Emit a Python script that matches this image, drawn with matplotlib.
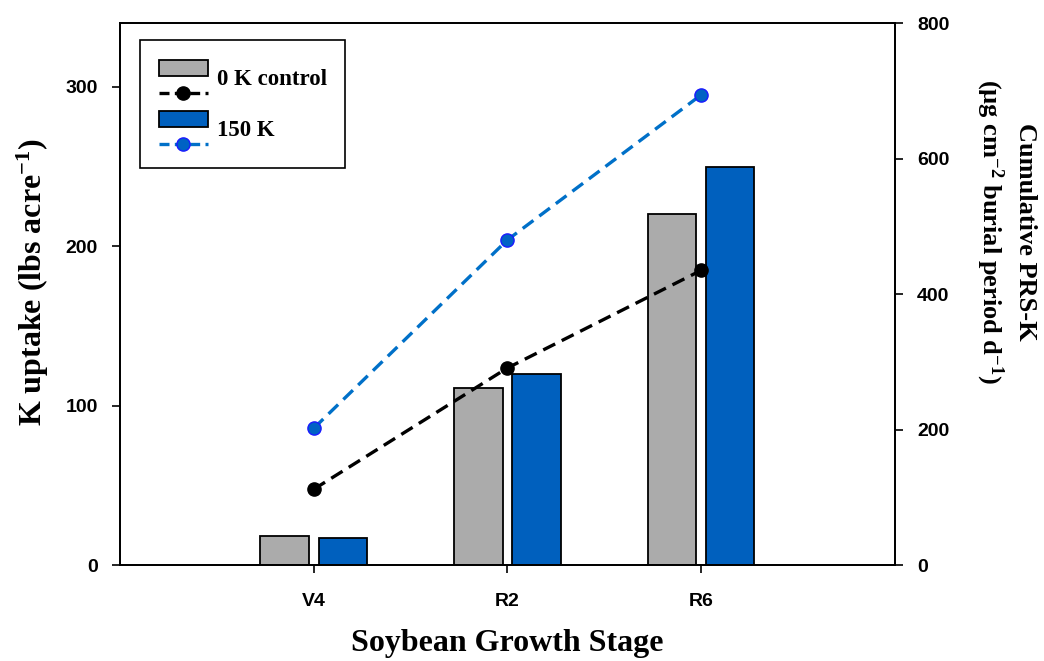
import matplotlib
matplotlib.use("Agg")
import matplotlib.pyplot as plt
from matplotlib.patches import Rectangle
from matplotlib.lines import Line2D
from matplotlib.legend_handler import HandlerBase

plt.rcParams["mathtext.fontset"] = "custom"
plt.rcParams["mathtext.bf"] = "Liberation Serif:bold"
plt.rcParams["mathtext.rm"] = "Liberation Serif:bold"
plt.rcParams["mathtext.it"] = "Liberation Serif:bold"

# ── data ──
stages = ["V4", "R2", "R6"]
uptake_0k = [18, 111, 220]      # lbs acre-1 (bars, left axis)
uptake_150k = [17, 120, 250]
prs_0k = [112, 291, 435]        # cumulative PRS-K (lines, right axis)
prs_150k = [202, 480, 694]

gray = "#ABABAB"
blue_bar = "#0060BE"
blue_line = "#0070C8"

tick_font = dict(family="Liberation Sans", weight="bold", size=14)
label_font = dict(family="Liberation Serif", weight="bold")


class StackedHandler(HandlerBase):
    # bar swatch on top, line sample below (SigmaPlot style)
    def create_artists(self, legend, orig_handle, xdescent, ydescent,
                       width, height, fontsize, trans):
        bar, line = orig_handle
        x0, y0 = -xdescent, -ydescent
        rect = Rectangle((x0, y0 + height * 0.55), width, height * 0.4,
                         facecolor=bar.get_facecolor(), edgecolor="black",
                         lw=1.3, transform=trans)
        ly = y0 + height * 0.125
        ln = Line2D([x0, x0 + width], [ly, ly],
                    color=line.get_color(), ls=line.get_linestyle(),
                    lw=line.get_linewidth(), transform=trans)
        ln.set_dashes((3, 1.6))
        mk = Line2D([x0 + width / 2], [ly], ls="none",
                    marker="o", ms=line.get_markersize(),
                    mfc=line.get_markerfacecolor(),
                    mec=line.get_markeredgecolor(), transform=trans)
        return [rect, ln, mk]


fig = plt.figure(figsize=(10.44, 6.61), dpi=100)
ax = fig.add_axes([0.115, 0.145, 0.742, 0.82])
ax2 = ax.twinx()

x = list(range(1, len(stages) + 1))
w = 0.25
b0 = ax.bar([i - 0.15 for i in x], uptake_0k, w, color=gray,
            edgecolor="black", lw=1.3, zorder=2)
b1 = ax.bar([i + 0.15 for i in x], uptake_150k, w, color=blue_bar,
            edgecolor="black", lw=1.3, zorder=2)

l0, = ax2.plot(x, prs_0k, ls="--", dashes=(4, 2.2), color="black", lw=2.4,
               marker="o", ms=9.5, mfc="black", mec="black")
l1, = ax2.plot(x, prs_150k, ls="--", dashes=(4, 2.2), color=blue_line,
               lw=2.4, marker="o", ms=9.5, mfc="#0062C4", mec="#1A1AFF")

ax.set_xlim(0, 4)
ax.set_ylim(0, 340)
ax2.set_ylim(0, 800)
ax.set_xticks(x)
ax.set_xticklabels(stages, **tick_font)
ax.set_yticks([0, 100, 200, 300])
ax.set_yticklabels(["0", "100", "200", "300"], **tick_font)
ax2.set_yticks([0, 200, 400, 600, 800])
ax2.set_yticklabels(["0", "200", "400", "600", "800"], **tick_font)

for a in (ax, ax2):
    a.tick_params(direction="out", length=6, width=1.2, pad=10)
    for s in a.spines.values():
        s.set_linewidth(1.3)
ax.tick_params(axis="x", pad=14)

ax.set_xlabel("Soybean Growth Stage", labelpad=14, size=23, **label_font)
ax.set_ylabel("K uptake (lbs acre$^{-1}$)", size=23, **label_font)
ax.yaxis.label.set_rotation_mode("default")
ax.yaxis.label.set_va("center")
ax.yaxis.label.set_ha("center")
ax.yaxis.set_label_coords(-0.112, 0.522)

ax2.set_ylabel("Cumulative PRS-K\n(µg cm$^{-2}$ burial period d$^{-1}$)",
               rotation=270, linespacing=1.4, size=19, **label_font)
ax2.yaxis.label.set_rotation_mode("default")
ax2.yaxis.label.set_va("center")
ax2.yaxis.label.set_ha("center")
ax2.yaxis.set_label_coords(1.143, 0.615)

leg = ax2.legend([(b0.patches[0], l0), (b1.patches[0], l1)],
                 ["0 K control", "150 K"],
                 handler_map={tuple: StackedHandler()},
                 loc="upper left", bbox_to_anchor=(0.026, 0.969),
                 borderaxespad=0, handlelength=2.15, handleheight=2.31,
                 labelspacing=0.48, borderpad=0.8, handletextpad=0.4,
                 fancybox=False, framealpha=1,
                 prop=dict(family="Liberation Serif", weight="bold", size=16.5))
leg.get_frame().set_edgecolor("black")
leg.get_frame().set_linewidth(1.2)

fig.savefig("out.png", dpi=100)
